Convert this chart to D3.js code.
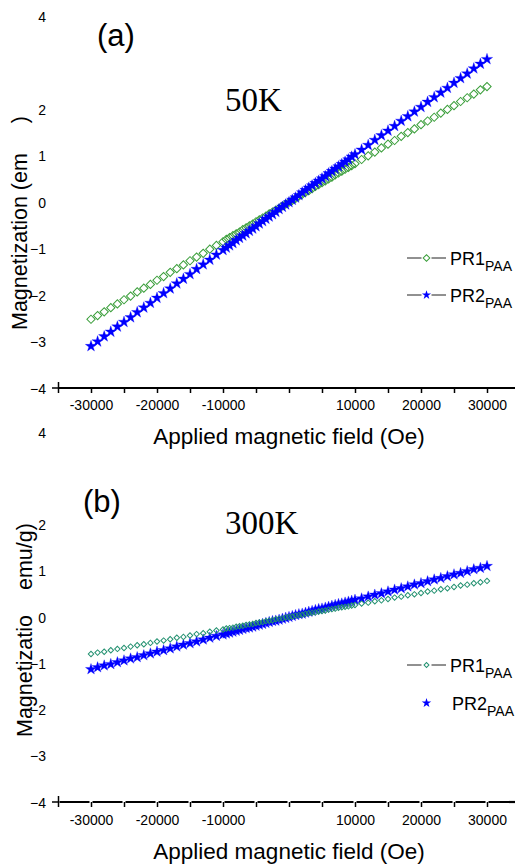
<!DOCTYPE html>
<html>
<head>
<meta charset="utf-8">
<script src="https://cdn.jsdelivr.net/npm/d3@7"></script>
<style>
  html, body { margin: 0; padding: 0; background: #fff; }
  svg { display: block; }
</style>
</head>
<body>
<svg id="chart" width="515" height="864" font-family="'Liberation Sans', Arial, sans-serif"></svg>
<script>
// ---------------- DATA ----------------
const fieldOe = [
  -30000,-29000,-28000,-27000,-26000,-25000,-24000,-23000,-22000,-21000,
  -20000,-19000,-18000,-17000,-16000,-15000,-14000,-13000,-12000,-11000,
  -10000,-9500,-9000,-8500,-8000,-7500,-7000,-6500,-6000,-5500,
  -5000,-4500,-4000,-3500,-3000,-2500,-2000,-1500,-1000,-500,
  0,
  500,1000,1500,2000,2500,3000,3500,4000,4500,5000,
  5500,6000,6500,7000,7500,8000,8500,9000,9500,10000,
  11000,12000,13000,14000,15000,16000,17000,18000,19000,20000,
  21000,22000,23000,24000,25000,26000,27000,28000,29000,30000
];

const pr1_50K = [
  -2.52,-2.44,-2.36,-2.27,-2.19,-2.10,-2.02,-1.93,-1.85,-1.77,
  -1.68,-1.60,-1.51,-1.43,-1.35,-1.26,-1.18,-1.10,-1.01,-0.93,
  -0.85,-0.80,-0.76,-0.72,-0.68,-0.64,-0.59,-0.55,-0.51,-0.47,
  -0.42,-0.38,-0.34,-0.30,-0.25,-0.21,-0.17,-0.13,-0.08,-0.04,
  0,
  0.04,0.08,0.13,0.17,0.21,0.25,0.29,0.34,0.38,0.42,
  0.46,0.50,0.54,0.59,0.63,0.67,0.71,0.75,0.79,0.83,
  0.92,1.00,1.08,1.17,1.25,1.33,1.42,1.50,1.58,1.67,
  1.75,1.83,1.92,2.00,2.08,2.17,2.25,2.33,2.42,2.49
];
const pr2_50K = [
  -3.10,-3.00,-2.89,-2.79,-2.68,-2.58,-2.48,-2.37,-2.27,-2.17,
  -2.06,-1.96,-1.86,-1.75,-1.65,-1.55,-1.44,-1.34,-1.24,-1.13,
  -1.03,-0.98,-0.93,-0.88,-0.82,-0.77,-0.72,-0.67,-0.62,-0.57,
  -0.52,-0.46,-0.41,-0.36,-0.31,-0.26,-0.21,-0.15,-0.10,-0.05,
  0,
  0.05,0.10,0.15,0.21,0.26,0.31,0.36,0.41,0.46,0.51,
  0.56,0.62,0.67,0.72,0.77,0.82,0.87,0.92,0.98,1.03,
  1.13,1.23,1.34,1.44,1.54,1.64,1.75,1.85,1.95,2.05,
  2.16,2.26,2.36,2.46,2.57,2.67,2.77,2.88,2.98,3.08
];
const pr1_300K = [
  -0.80,-0.77,-0.75,-0.72,-0.69,-0.67,-0.64,-0.61,-0.59,-0.56,
  -0.53,-0.51,-0.48,-0.45,-0.43,-0.40,-0.37,-0.35,-0.32,-0.29,
  -0.27,-0.25,-0.24,-0.23,-0.21,-0.20,-0.19,-0.17,-0.16,-0.15,
  -0.13,-0.12,-0.11,-0.09,-0.08,-0.07,-0.05,-0.04,-0.03,-0.01,
  0,
  0.01,0.03,0.04,0.05,0.07,0.08,0.09,0.10,0.12,0.13,
  0.14,0.16,0.17,0.18,0.20,0.21,0.22,0.23,0.25,0.26,
  0.29,0.31,0.34,0.36,0.39,0.42,0.44,0.47,0.49,0.52,
  0.55,0.57,0.60,0.62,0.65,0.68,0.70,0.73,0.75,0.78
];
const pr2_300K = [
  -1.13,-1.09,-1.05,-1.02,-0.98,-0.94,-0.90,-0.87,-0.83,-0.79,
  -0.75,-0.72,-0.68,-0.64,-0.60,-0.57,-0.53,-0.49,-0.45,-0.41,
  -0.38,-0.36,-0.34,-0.32,-0.30,-0.28,-0.26,-0.24,-0.23,-0.21,
  -0.19,-0.17,-0.15,-0.13,-0.11,-0.09,-0.08,-0.06,-0.04,-0.02,
  0,
  0.02,0.04,0.06,0.07,0.09,0.11,0.13,0.15,0.17,0.18,
  0.20,0.22,0.24,0.26,0.28,0.29,0.31,0.33,0.35,0.37,
  0.40,0.44,0.48,0.51,0.55,0.59,0.62,0.66,0.70,0.73,
  0.77,0.81,0.84,0.88,0.92,0.95,0.99,1.03,1.06,1.10
];

const xTickValues = [-35000,-30000,-25000,-20000,-15000,-10000,-5000,0,5000,10000,15000,20000,25000,30000,35000];
const xTickLabels = ["-30000","-20000","-10000","10000","20000","30000"];
const yTickValues = [4,2,1,0,-1,-2,-3,-4];
const seriesNames = ["PR1", "PR2"];
const seriesSub = "PAA";
const panelLabels = ["(a)", "(b)"];
const tempLabels = ["50K", "300K"];
const xTitle = "Applied magnetic field (Oe)";

// ---------------- LAYOUT ----------------
const svg = d3.select("#chart");
const xDomain = [-35000, 35000];
const SANS = "'Liberation Sans', Arial, Helvetica, sans-serif";
const SERIF = "'Liberation Serif', 'Times New Roman', serif";

const panels = [
  { top: 16.5, bottom: 388, p1: pr1_50K, p2: pr2_50K, green: "#3a9e3a", diaSize: 34, starSize: 40,
    greenFirst: true, label: panelLabels[0], labelPos: [97, 46], temp: tempLabels[0], tempPos: [225, 111],
    xTitleY: 444, tickLabelY: 410, yTitleX: 27, yTitleStart: 330, yTitleParts: ["Magnetization (em", "u/g", ")"], yTitleHide: 1,
    legendY: [258, 295], legendStarLines: true, dashedAxis: false, legDia: 22, legStar: 26 },
  { top: 432, bottom: 802, p1: pr1_300K, p2: pr2_300K, green: "#239170", diaSize: 15, starSize: 38,
    greenFirst: false, label: panelLabels[1], labelPos: [83, 512], temp: tempLabels[1], tempPos: [225, 534],
    xTitleY: 859, tickLabelY: 825, yTitleX: 32, yTitleStart: 737, yTitleParts: ["Magnetizatio", "n (", "emu/g)"], yTitleHide: 1,
    legendY: [665, 703], legendStarLines: false, dashedAxis: true, legDia: 12, legStar: 28 }
];

const x = d3.scaleLinear().domain(xDomain).range([58, 520]);

panels.forEach((P) => {
  const y = d3.scaleLinear().domain([-4, 4]).range([P.bottom, P.top]);
  const g = svg.append("g");

  // y tick labels
  const yAxis = d3.axisLeft(y).tickValues(yTickValues).tickSize(0).tickPadding(12)
    .tickFormat(d3.format("d"));
  const ya = g.append("g").attr("transform", `translate(${x(xDomain[0])},0)`).call(yAxis);
  ya.attr("font-family", null).attr("font-size", null);
  ya.select(".domain").remove();
  ya.selectAll("text").attr("font-size", 14).style("font-family", SANS)
    .attr("dy", "0.36em").attr("fill", "#000");

  // x axis
  const xAxis = d3.axisBottom(x).tickValues(xTickValues).tickSize(5).tickSizeOuter(0)
    .tickFormat(d => xTickLabels.includes(String(d)) ? String(d) : "");
  const xa = g.append("g").attr("transform", `translate(0,${P.bottom})`).call(xAxis);
  xa.attr("font-family", null).attr("font-size", null);
  xa.select(".domain").remove();
  xa.selectAll(".tick line").attr("stroke", "#000").attr("stroke-width", 1.5);
  xa.selectAll(".tick").filter(d => d === xDomain[0]).select("line").attr("y1", -6).attr("y2", 5);
  xa.selectAll("text").attr("font-size", 14).style("font-family", SANS)
    .attr("fill", "#000").attr("y", P.tickLabelY - P.bottom).attr("dy", 0);
  const axisLine = g.append("line")
    .attr("x1", x(xDomain[0])).attr("x2", x(xDomain[1]))
    .attr("y1", P.bottom).attr("y2", P.bottom)
    .attr("stroke", "#000").attr("stroke-width", 2.2);
  if (P.dashedAxis) axisLine.attr("stroke-dasharray", "30,3").attr("stroke-dashoffset", -1.5);
  // short y tick at the corner
  g.append("line").attr("x1", x(xDomain[0]) - 6).attr("x2", x(xDomain[0]))
    .attr("y1", P.bottom).attr("y2", P.bottom).attr("stroke", "#000").attr("stroke-width", 1.5);

  // x title
  g.append("text").attr("x", 289).attr("y", P.xTitleY).attr("text-anchor", "middle")
    .style("font-family", SANS).attr("font-size", 22.5).text(xTitle);

  // y title (rotated), parts with a hidden middle
  const yt = g.append("text")
    .attr("transform", `translate(${P.yTitleX},${P.yTitleStart}) rotate(-90)`)
    .style("font-family", SANS).attr("font-size", 21.5).attr("text-anchor", "start");
  P.yTitleParts.forEach((t, i) => {
    yt.append("tspan").text(t).attr("fill", i === P.yTitleHide ? "#fff" : "#000")
      .attr("xml:space", "preserve");
  });

  // panel label and temperature
  g.append("text").attr("x", P.labelPos[0]).attr("y", P.labelPos[1]).style("font-family", SANS)
    .attr("font-size", 31).text(P.label);
  g.append("text").attr("x", P.tempPos[0]).attr("y", P.tempPos[1])
    .style("font-family", SERIF).attr("font-size", 33).text(P.temp);

  // data
  const diamond = d3.symbol().type(d3.symbolSquare).size(P.diaSize);
  const star = d3.symbol().type(d3.symbolStar).size(P.starSize);
  const drawGreen = () => {
    g.append("g").selectAll("path").data(fieldOe.map((f, i) => [f, P.p1[i]])).join("path")
      .attr("d", diamond)
      .attr("transform", d => `translate(${x(d[0])},${y(d[1])}) rotate(45)`)
      .attr("fill", "none").attr("stroke", P.green).attr("stroke-width", 1);
  };
  const drawBlue = () => {
    g.append("g").selectAll("path").data(fieldOe.map((f, i) => [f, P.p2[i]])).join("path")
      .attr("d", star)
      .attr("transform", d => `translate(${x(d[0])},${y(d[1])})`)
      .attr("fill", "#0000ff").attr("stroke", "#0000ff").attr("stroke-width", 0.3);
  };
  if (P.greenFirst) { drawGreen(); drawBlue(); } else { drawBlue(); drawGreen(); }

  // legend
  const lx0 = 407, lx1 = 446, lxm = 426.5, tx = 450;
  const leg = g.append("g");
  leg.append("line").attr("x1", lx0).attr("x2", lxm - 5).attr("y1", P.legendY[0]).attr("y2", P.legendY[0])
    .attr("stroke", "#222").attr("stroke-width", 1);
  leg.append("line").attr("x1", lxm + 5).attr("x2", lx1).attr("y1", P.legendY[0]).attr("y2", P.legendY[0])
    .attr("stroke", "#222").attr("stroke-width", 1);
  leg.append("path").attr("d", d3.symbol().type(d3.symbolSquare).size(P.legDia)())
    .attr("transform", `translate(${lxm},${P.legendY[0]}) rotate(45)`)
    .attr("fill", "none").attr("stroke", P.green).attr("stroke-width", 1);
  if (P.legendStarLines) {
    leg.append("line").attr("x1", lx0).attr("x2", lxm - 5).attr("y1", P.legendY[1]).attr("y2", P.legendY[1])
      .attr("stroke", "#222").attr("stroke-width", 1);
    leg.append("line").attr("x1", lxm + 5).attr("x2", lx1).attr("y1", P.legendY[1]).attr("y2", P.legendY[1])
      .attr("stroke", "#222").attr("stroke-width", 1);
  }
  leg.append("path").attr("d", d3.symbol().type(d3.symbolStar).size(P.legStar)())
    .attr("transform", `translate(${lxm},${P.legendY[1]})`)
    .attr("fill", "#0000ff");
  P.legendY.forEach((ly, i) => {
    const t = leg.append("text").attr("x", tx + (i === 1 && !P.legendStarLines ? 2 : 0))
      .attr("y", ly + 7).style("font-family", SANS).attr("font-size", 18);
    t.append("tspan").text(seriesNames[i]);
    t.append("tspan").text(seriesSub).attr("font-size", 14).attr("dy", 6);
  });
});
</script>
</body>
</html>
